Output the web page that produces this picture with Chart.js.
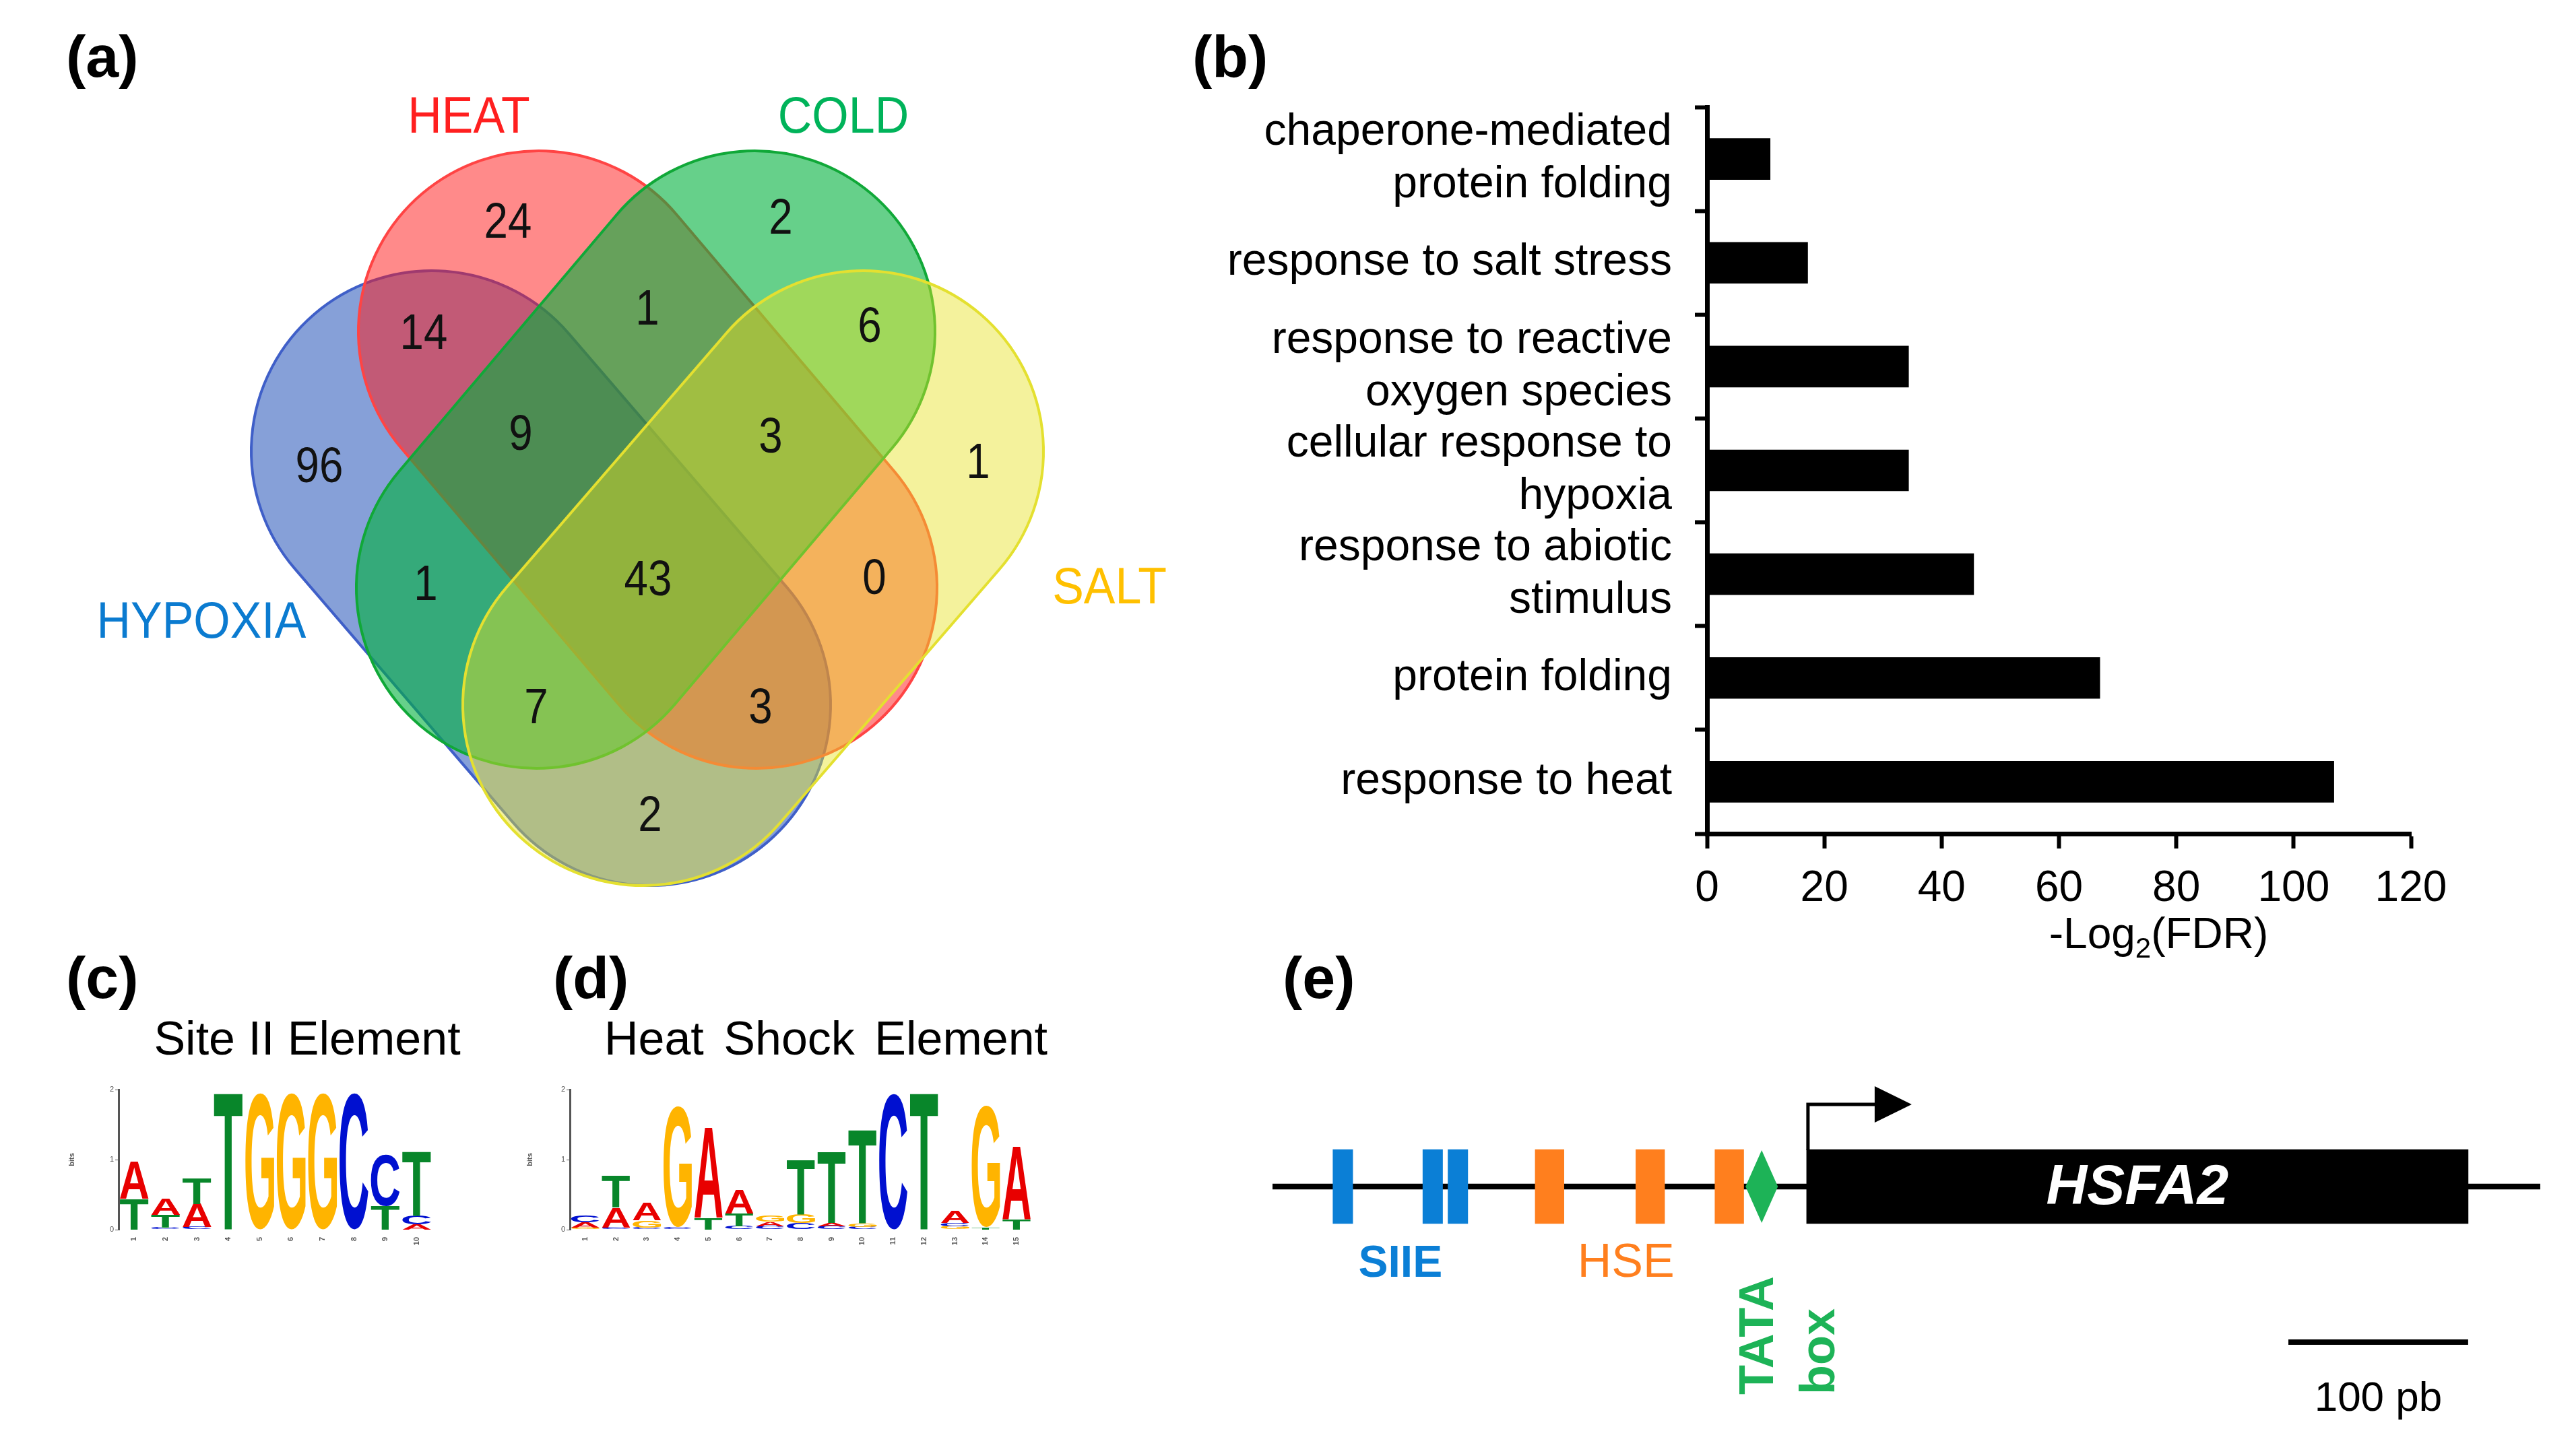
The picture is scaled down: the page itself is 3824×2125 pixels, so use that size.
<!DOCTYPE html>
<html>
<head>
<meta charset="utf-8">
<script src="https://cdn.jsdelivr.net/npm/chart.js@4.4.0/dist/chart.umd.min.js"></script>
<style>
  html, body { margin: 0; padding: 0; background: #fff; }
  #page { position: relative; width: 3824px; height: 2125px; overflow: hidden; font-family: 'Liberation Sans', Arial, sans-serif; }
  canvas { position: absolute; }
  .lbl { position: absolute; line-height: 1; white-space: pre; color: #000; }
  .panel { font-size: 88px; font-weight: bold; }
  .motif { font-size: 70px; transform: translateX(-50%); }
</style>
</head>
<body>
<div id="page">
  <canvas id="venn" width="1760" height="1420" style="left:0;top:0"></canvas>
  <canvas id="bars" width="2079" height="1450" style="left:1745px;top:0"></canvas>
  <canvas id="logoSite" width="600" height="300" style="left:100px;top:1590px"></canvas>
  <canvas id="logoHse" width="800" height="300" style="left:780px;top:1590px"></canvas>
  <canvas id="gene" width="1964" height="565" style="left:1860px;top:1560px"></canvas>

  <div class="lbl panel" style="left:98px;top:40px">(a)</div>
  <div class="lbl panel" style="left:1770px;top:40px">(b)</div>
  <div class="lbl panel" style="left:98px;top:1408px">(c)</div>
  <div class="lbl panel" style="left:821px;top:1408px">(d)</div>
  <div class="lbl panel" style="left:1904px;top:1408px">(e)</div>
  <div class="lbl motif" style="left:456px;top:1507px">Site II Element</div>
  <div class="lbl motif" style="left:1226px;top:1507px;word-spacing:10px">Heat Shock Element</div>
</div>

<script>
// ---- data ----

// (a) Venn diagram
const vennSets = ['HYPOXIA', 'HEAT', 'COLD', 'SALT'];
const vennRegions = ['HYPOXIA', 'HEAT', 'COLD', 'SALT', 'HYPOXIA+HEAT', 'HEAT+COLD', 'COLD+SALT',
  'HYPOXIA+HEAT+COLD', 'HEAT+COLD+SALT', 'HYPOXIA+COLD', 'ALL', 'HEAT+SALT',
  'HYPOXIA+COLD+SALT', 'HYPOXIA+HEAT+SALT', 'HYPOXIA+SALT'];
const vennCounts = [96, 24, 2, 1, 14, 1, 6, 9, 3, 1, 43, 0, 7, 3, 2];

// (b) GO enrichment
const goTerms = [
  ['chaperone-mediated', 'protein folding'],
  'response to salt stress',
  ['response to reactive', 'oxygen species'],
  ['cellular response to', 'hypoxia'],
  ['response to abiotic', 'stimulus'],
  'protein folding',
  'response to heat'
];
const goScores = [10.8, 17.2, 34.4, 34.4, 45.5, 67.0, 106.9];
const scoreMax = 120;
const scoreStep = 20;

// (c) Site II Element logo, letters stacked from the bottom up
const siteCols = ['1', '2', '3', '4', '5', '6', '7', '8', '9', '10'];
const siteLetters = [
  ['T', 'C', 'C', 'T', 'G', 'G', 'G', 'C', 'T', 'A'],
  ['A', 'T', 'A', '', '', '', '', '', 'C', 'C'],
  ['', 'A', 'T', '', '', '', '', '', '', 'T']
];
const siteBits = [
  [0.44, 0.03, 0.04, 1.97, 1.95, 1.95, 1.95, 1.95, 0.34, 0.08],
  [0.54, 0.18, 0.33, 0, 0, 0, 0, 0, 0.74, 0.12],
  [0, 0.24, 0.37, 0, 0, 0, 0, 0, 0, 0.92]
];

// (d) Heat Shock Element logo
const hseCols = ['1', '2', '3', '4', '5', '6', '7', '8', '9', '10', '11', '12', '13', '14', '15'];
const hseLetters = [
  ['G', 'C', 'C', 'C', 'T', 'C', 'C', 'C', 'C', 'C', 'C', 'T', 'G', 'T', 'T'],
  ['A', 'A', 'G', 'G', 'A', 'T', 'A', 'G', 'A', 'G', '', '', 'C', 'G', 'A'],
  ['C', 'T', 'A', '', '', 'A', 'G', 'T', 'T', 'T', '', '', 'A', '', '']
];
const hseBits = [
  [0.03, 0.03, 0.03, 0.03, 0.17, 0.05, 0.05, 0.09, 0.05, 0.04, 1.94, 1.97, 0.05, 0.03, 0.15],
  [0.07, 0.29, 0.10, 1.72, 1.30, 0.18, 0.06, 0.12, 0.05, 0.05, 0, 0, 0.05, 1.74, 1.05],
  [0.10, 0.46, 0.25, 0, 0, 0.34, 0.09, 0.78, 1.03, 1.35, 0, 0, 0.17, 0, 0]
];

// (e) HSFA2 promoter, bp from the TSS
const geneSpan = [0, 368];
const promoterLine = [-297, 408];
const siieSites = [-258, -208, -194];
const hseSites = [-143, -87, -43];
const tataSite = -25;
const scaleBarBp = 100;

// ---- layout / styles ----
const FONT = "'Liberation Sans', Arial, Helvetica, sans-serif";
Chart.defaults.font.family = FONT;
Chart.defaults.color = '#000';
Chart.defaults.animation = false;
Chart.defaults.responsive = false;
Chart.defaults.devicePixelRatio = 1;
Chart.defaults.plugins.legend.display = false;
Chart.defaults.plugins.tooltip.enabled = false;

// where each count sits (page px, same order as vennCounts)
const vennCountSpots = [[474, 696], [754, 333], [1159, 327], [1452, 690], [629, 498], [961, 462], [1291, 488],
  [773, 648], [1144, 652], [632, 871], [962, 864], [1298, 862], [796, 1054], [1129, 1054], [965, 1214]];
const vennLabelSpots = [[299, 926], [696, 176], [1252, 176], [1647, 875]];
const vennLabelColors = ['#0b7bd0', '#ff1f1f', '#00b35a', '#ffc000'];
// each set is a stadium: two cap centres, shared radius
const vennRadius = 268;
const vennShapes = [
  { a: [641, 670], b: [965, 1047], fill: 'rgba(13,65,177,0.5)', edge: '#3f5fc8' },
  { a: [800, 492], b: [1123, 873], fill: 'rgba(255,21,21,0.5)', edge: '#ff4444' },
  { a: [1120, 492], b: [797, 873], fill: 'rgba(0,177,60,0.6)', edge: '#10a838' },
  { a: [1281, 670], b: [955, 1047], fill: 'rgba(231,226,35,0.45)', edge: '#e4e030' }
];

const vennPlugin = {
  id: 'vennShapes',
  beforeDatasetsDraw(chart) {
    const { ctx, scales: { x, y } } = chart;
    const r = x.getPixelForValue(vennRadius) - x.getPixelForValue(0);
    ctx.save();
    for (const s of vennShapes) {
      const ax = x.getPixelForValue(s.a[0]), ay = y.getPixelForValue(s.a[1]);
      const bx = x.getPixelForValue(s.b[0]), by = y.getPixelForValue(s.b[1]);
      const t = Math.atan2(by - ay, bx - ax);
      ctx.beginPath();
      ctx.arc(ax, ay, r, t + Math.PI / 2, t + 3 * Math.PI / 2);
      ctx.arc(bx, by, r, t - Math.PI / 2, t + Math.PI / 2);
      ctx.closePath();
      ctx.fillStyle = s.fill;
      ctx.fill();
      ctx.lineWidth = 4;
      ctx.strokeStyle = s.edge;
      ctx.stroke();
    }
    ctx.restore();
  },
  afterDatasetsDraw(chart) {
    const { ctx, scales: { x, y } } = chart;
    const pts = chart.getDatasetMeta(0).data;
    ctx.save();
    ctx.textAlign = 'center';
    ctx.textBaseline = 'middle';
    ctx.font = '74px ' + FONT;
    ctx.fillStyle = '#111';
    pts.forEach((p, i) => {
      ctx.save();
      ctx.translate(p.x, p.y);
      ctx.scale(0.86, 1);
      ctx.fillText(String(vennCounts[i]), 0, 0);
      ctx.restore();
    });
    ctx.font = '76px ' + FONT;
    vennSets.forEach((name, i) => {
      ctx.save();
      ctx.translate(x.getPixelForValue(vennLabelSpots[i][0]), y.getPixelForValue(vennLabelSpots[i][1]));
      ctx.scale(0.92, 1);
      ctx.fillStyle = vennLabelColors[i];
      ctx.fillText(name, 0, 0);
      ctx.restore();
    });
    ctx.restore();
  }
};

new Chart(document.getElementById('venn'), {
  type: 'scatter',
  data: {
    datasets: [{
      label: 'Venn counts',
      data: vennCountSpots.map(p => ({ x: p[0], y: p[1] })),
      pointRadius: 0
    }]
  },
  options: {
    layout: { padding: 0 },
    scales: {
      x: { type: 'linear', min: 0, max: 1760, display: false },
      y: { type: 'linear', min: 0, max: 1420, reverse: true, display: false }
    }
  },
  plugins: [vennPlugin]
});

// (b) horizontal bars
const fdrTitle = {
  id: 'fdrTitle',
  afterDraw(chart) {
    const { ctx, scales: { x } } = chart;
    const big = '64px ' + FONT, small = '42px ' + FONT;
    ctx.save();
    ctx.fillStyle = '#000';
    ctx.textBaseline = 'alphabetic';
    ctx.textAlign = 'left';
    ctx.font = big;
    const w1 = ctx.measureText('-Log').width, w3 = ctx.measureText('(FDR)').width;
    ctx.font = small;
    const w2 = ctx.measureText('2').width;
    let cx = x.getPixelForValue(77) - (w1 + w2 + w3) / 2;
    const base = 1408;
    ctx.font = big;
    ctx.fillText('-Log', cx, base);
    cx += w1;
    ctx.font = small;
    ctx.fillText('2', cx, base + 14);
    cx += w2;
    ctx.font = big;
    ctx.fillText('(FDR)', cx, base);
    ctx.restore();
  }
};

new Chart(document.getElementById('bars'), {
  type: 'bar',
  data: {
    labels: goTerms,
    datasets: [{
      label: '-Log2(FDR)',
      data: goScores,
      backgroundColor: '#000',
      borderWidth: 0,
      barPercentage: 0.4,
      categoryPercentage: 1
    }]
  },
  options: {
    indexAxis: 'y',
    layout: { padding: { top: 159, right: 245, left: 0, bottom: 0 } },
    scales: {
      y: {
        grid: { drawOnChartArea: false, drawTicks: true, tickLength: 18, tickWidth: 6, color: '#000', offset: true },
        border: { display: true, width: 7, color: '#000' },
        ticks: { font: { size: 66, lineHeight: 1.18 }, color: '#000', padding: 34, autoSkip: false },
        afterFit(s) { s.width = 789; }
      },
      x: {
        min: 0,
        max: scoreMax,
        ticks: { stepSize: scoreStep, font: { size: 64 }, color: '#000', padding: 22, maxRotation: 0 },
        grid: { drawOnChartArea: false, tickLength: 22, tickWidth: 6, color: '#000' },
        border: { display: true, width: 7, color: '#000' },
        afterFit(s) { s.height = 212; }
      }
    }
  },
  plugins: [fdrTitle]
});

// (c), (d) sequence logos
const letterColors = { A: '#e80000', C: '#0010d0', G: '#ffb400', T: '#08862a' };

function drawLetter(ctx, ch, left, top, w, h) {
  if (!ch || h < 0.8) return;
  ctx.save();
  ctx.font = 'bold 100px ' + FONT;
  const m = ctx.measureText(ch);
  const gw = m.actualBoundingBoxLeft + m.actualBoundingBoxRight;
  const gh = m.actualBoundingBoxAscent + m.actualBoundingBoxDescent;
  ctx.translate(left, top);
  ctx.scale(w / gw, h / gh);
  ctx.fillStyle = letterColors[ch];
  ctx.textAlign = 'left';
  ctx.textBaseline = 'alphabetic';
  ctx.fillText(ch, m.actualBoundingBoxLeft, m.actualBoundingBoxAscent);
  ctx.restore();
}

const logoLetters = {
  id: 'logoLetters',
  afterDatasetsDraw(chart) {
    const ctx = chart.ctx;
    chart.data.datasets.forEach((ds, i) => {
      chart.getDatasetMeta(i).data.forEach((bar, j) => {
        const p = bar.getProps(['x', 'y', 'base', 'width'], true);
        drawLetter(ctx, ds.letters[j], p.x - p.width / 2, Math.min(p.y, p.base), p.width, Math.abs(p.base - p.y));
      });
    });
  }
};

function logoChart(id, cols, letters, bits, box) {
  return new Chart(document.getElementById(id), {
    type: 'bar',
    data: {
      labels: cols,
      datasets: bits.map((h, k) => ({
        label: 'layer ' + (k + 1),
        data: h,
        letters: letters[k],
        backgroundColor: 'rgba(0,0,0,0)',
        borderWidth: 0,
        barPercentage: 0.92,
        categoryPercentage: 1
      }))
    },
    options: {
      layout: { padding: { top: box.top, right: box.right, left: 0, bottom: 0 } },
      scales: {
        x: {
          stacked: true,
          grid: { display: false },
          border: { display: false },
          ticks: { font: { size: 11, weight: 'bold' }, color: '#555', minRotation: 90, maxRotation: 90, padding: 3 },
          afterFit(s) { s.height = box.bottom; }
        },
        y: {
          stacked: true,
          min: 0,
          max: 2,
          ticks: { stepSize: 1, font: { size: 11 }, color: '#555', padding: 2 },
          grid: { drawOnChartArea: false, tickLength: 5, color: '#555' },
          border: { color: '#555', width: 3 },
          title: { display: true, text: 'bits', font: { size: 11, weight: 'bold' }, color: '#555', padding: 0 },
          afterFit(s) { s.width = box.left; }
        }
      }
    },
    plugins: [logoLetters]
  });
}

logoChart('logoSite', siteCols, siteLetters, siteBits, { left: 76, right: 58, top: 28, bottom: 64 });
logoChart('logoHse', hseCols, hseLetters, hseBits, { left: 66, right: 48, top: 28, bottom: 64 });

// (e) promoter diagram
const geneMarks = {
  id: 'geneMarks',
  afterDatasetsDraw(chart) {
    const { ctx, scales: { x, y } } = chart;
    const cy = y.getPixelForValue(0);
    ctx.save();

    // TATA box diamond
    const tx = x.getPixelForValue(tataSite);
    ctx.fillStyle = '#1db357';
    ctx.beginPath();
    ctx.moveTo(tx, cy - 54);
    ctx.lineTo(tx + 24, cy);
    ctx.lineTo(tx, cy + 54);
    ctx.lineTo(tx - 24, cy);
    ctx.closePath();
    ctx.fill();

    // transcription start arrow
    const x0 = x.getPixelForValue(geneSpan[0]) + 2;
    ctx.strokeStyle = '#000';
    ctx.lineWidth = 5;
    ctx.beginPath();
    ctx.moveTo(x0, cy - 54);
    ctx.lineTo(x0, cy - 122);
    ctx.lineTo(x0 + 102, cy - 122);
    ctx.stroke();
    ctx.fillStyle = '#000';
    ctx.beginPath();
    ctx.moveTo(x0 + 99, cy - 149);
    ctx.lineTo(x0 + 154, cy - 122);
    ctx.lineTo(x0 + 99, cy - 95);
    ctx.closePath();
    ctx.fill();

    // gene name
    ctx.fillStyle = '#fff';
    ctx.font = 'italic bold 84px ' + FONT;
    ctx.textAlign = 'center';
    ctx.textBaseline = 'middle';
    ctx.fillText('HSFA2', x.getPixelForValue((geneSpan[0] + geneSpan[1]) / 2), cy + 3);

    // element labels
    ctx.textBaseline = 'alphabetic';
    ctx.fillStyle = '#0b7fd6';
    ctx.font = 'bold 66px ' + FONT;
    const sMid = (x.getPixelForValue(Math.min(...siieSites)) + x.getPixelForValue(Math.max(...siieSites))) / 2;
    ctx.fillText('SIIE', sMid, 336);
    ctx.fillStyle = '#ff7f1e';
    ctx.font = '70px ' + FONT;
    const hMid = (x.getPixelForValue(Math.min(...hseSites)) + x.getPixelForValue(Math.max(...hseSites))) / 2;
    ctx.fillText('HSE', hMid - 20, 336);

    // rotated TATA box label
    ctx.fillStyle = '#1db357';
    ctx.font = 'bold 72px ' + FONT;
    ctx.textAlign = 'left';
    ctx.textBaseline = 'middle';
    [['TATA', tx - 3], ['box', tx + 88]].forEach(([txt, px]) => {
      ctx.save();
      ctx.translate(px, 511);
      ctx.rotate(-Math.PI / 2);
      ctx.fillText(txt, 0, 0);
      ctx.restore();
    });

    // scale bar
    const sb0 = x.getPixelForValue(geneSpan[1] - scaleBarBp), sb1 = x.getPixelForValue(geneSpan[1]);
    ctx.strokeStyle = '#000';
    ctx.lineWidth = 8;
    ctx.beginPath();
    ctx.moveTo(sb0, 433);
    ctx.lineTo(sb1, 433);
    ctx.stroke();
    ctx.fillStyle = '#000';
    ctx.font = '62px ' + FONT;
    ctx.textAlign = 'center';
    ctx.textBaseline = 'alphabetic';
    ctx.fillText(scaleBarBp + ' pb', (sb0 + sb1) / 2, 535);
    ctx.restore();
  }
};

new Chart(document.getElementById('gene'), {
  type: 'bar',
  data: {
    labels: ['HSFA2'],
    datasets: [
      ...siieSites.map(s => ({ label: 'SIIE', data: [[s - 5.5, s + 5.5]], backgroundColor: '#0b7fd6', barThickness: 110, grouped: false })),
      ...hseSites.map(s => ({ label: 'HSE', data: [[s - 8, s + 8]], backgroundColor: '#ff7f1e', barThickness: 110, grouped: false })),
      { label: 'gene', data: [geneSpan], backgroundColor: '#000', barThickness: 110, grouped: false },
      { label: 'promoter', data: [promoterLine], backgroundColor: '#000', barThickness: 8, grouped: false }
    ]
  },
  options: {
    indexAxis: 'y',
    layout: { padding: { top: 0, bottom: 161, left: 0, right: 0 } },
    scales: {
      x: { type: 'linear', min: -308, max: 428, display: false },
      y: { display: false }
    }
  },
  plugins: [geneMarks]
});
</script>
</body>
</html>
